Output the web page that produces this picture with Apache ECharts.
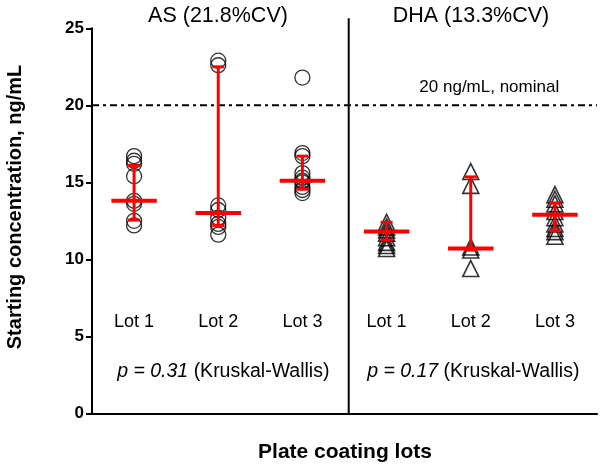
<!DOCTYPE html>
<html><head><meta charset="utf-8">
<script src="https://cdn.jsdelivr.net/npm/echarts@6/dist/echarts.min.js"></script>
<style>html,body{margin:0;padding:0;background:#fff}#c{width:600px;height:469px}</style>
</head><body><div id="c"></div>
<script>
// ---- data ----
const lotNames = ['Lot 1', 'Lot 2', 'Lot 3'];
const groupTitles = ['AS (21.8%CV)', 'DHA (13.3%CV)'];
const pValues = ['0.31', '0.17'];
const asX = [1, 2, 3];
const dhaX = [4, 5, 6];
const asLot1 = [16.7, 16.4, 16.2, 15.4, 13.8, 13.6, 12.5, 12.2];
const asLot2 = [22.9, 22.6, 13.5, 13.2, 12.7, 12.3, 12.1, 11.6];
const asLot3 = [21.8, 16.9, 16.7, 15.6, 15.3, 15.1, 15.0, 14.7, 14.5, 14.3];
const dhaLot1 = [12.4, 12.1, 11.9, 11.7, 11.4, 11.1, 10.9, 10.7];
const dhaLot2 = [15.7, 14.8, 10.8, 10.6, 9.4];
const dhaLot3 = [14.2, 13.9, 13.6, 13.1, 12.7, 12.3, 12.0, 11.8, 11.5];
const asMedian = [13.8, 13.0, 15.1];
const asLow = [12.55, 12.2, 14.55];
const asHigh = [16.1, 22.5, 16.7];
const dhaMedian = [11.8, 10.7, 12.9];
const dhaLow = [11.25, 10.6, 11.85];
const dhaHigh = [12.4, 15.35, 13.65];
const nominal = 20;
const nominalLabel = '20 ng/mL, nominal';
const yTitle = 'Starting concentration, ng/mL';
const xTitle = 'Plate coating lots';
const yMin = 0, yMax = 25, yStep = 5;

// ---- build ----
const FONT = 'Liberation Sans, Arial, Helvetica, sans-serif';
function pts(x, arr) { return arr.map(v => [x, v]); }
const asPoints = [].concat(pts(asX[0], asLot1), pts(asX[1], asLot2), pts(asX[2], asLot3));
const dhaPoints = [].concat(pts(dhaX[0], dhaLot1), pts(dhaX[1], dhaLot2), pts(dhaX[2], dhaLot3));
const barRows = asX.map((x, i) => [x, asMedian[i], asLow[i], asHigh[i]])
  .concat(dhaX.map((x, i) => [x, dhaMedian[i], dhaLow[i], dhaHigh[i]]));
const lotLabelRows = asX.concat(dhaX).map((x, i) => [x, lotNames[i % 3]]);

const chart = echarts.init(document.getElementById('c'), null, {renderer: 'canvas'});

function renderBars(params, api) {
  const x = api.value(0), m = api.value(1), lo = api.value(2), hi = api.value(3);
  const pm = api.coord([x, m]), pl = api.coord([x, lo]), ph = api.coord([x, hi]);
  const half = api.size([0.27, 0])[0];
  const cap = 6;
  const red = '#ff0000';
  return {type: 'group', children: [
    {type: 'line', shape: {x1: pl[0], y1: pl[1], x2: ph[0], y2: ph[1]}, style: {stroke: red, lineWidth: 3}},
    {type: 'line', shape: {x1: pl[0] - cap, y1: pl[1], x2: pl[0] + cap, y2: pl[1]}, style: {stroke: red, lineWidth: 3}},
    {type: 'line', shape: {x1: ph[0] - cap, y1: ph[1], x2: ph[0] + cap, y2: ph[1]}, style: {stroke: red, lineWidth: 3}},
    {type: 'line', shape: {x1: pm[0] - half, y1: pm[1], x2: pm[0] + half, y2: pm[1]}, style: {stroke: red, lineWidth: 4}}
  ]};
}

function renderRefs(params, api) {
  const d0 = api.coord([3.55, 0]);
  const d1 = api.coord([3.55, 25.65]);
  const n0 = api.coord([0.5, nominal]);
  const n1 = api.coord([6.5, nominal]);
  const lbl = api.coord([5.22, 21.2]);
  return {type: 'group', children: [
    {type: 'line', shape: {x1: d0[0], y1: d0[1], x2: d1[0], y2: d1[1]}, style: {stroke: '#000', lineWidth: 2}},
    {type: 'line', shape: {x1: n0[0], y1: n0[1], x2: n1[0], y2: n1[1]}, style: {stroke: '#000', lineWidth: 2, lineDash: [7, 4, 3, 4]}},
    {type: 'text', x: lbl[0], y: lbl[1], style: {text: nominalLabel, fontSize: 17, fontFamily: FONT, fill: '#000',
      align: 'center', verticalAlign: 'middle', textAlign: 'center', textVerticalAlign: 'middle'}}
  ]};
}

function renderLotLabels(params, api) {
  const x = api.value(0);
  const p = api.coord([x, 5.93]);
  return {type: 'text', x: p[0], y: p[1], style: {text: lotLabelRows[params.dataIndex][1], fontSize: 18, fontFamily: FONT, fill: '#000',
    align: 'center', verticalAlign: 'middle', textAlign: 'center', textVerticalAlign: 'middle'}};
}

function renderPText(params, api) {
  const x = api.value(0);
  const p = api.coord([x, 2.68]);
  return {type: 'text', x: p[0], y: p[1], style: {
    text: '{i|p = ' + pValues[params.dataIndex] + '} (Kruskal-Wallis)',
    fontSize: 19.5, fontFamily: FONT, fill: '#000',
    align: 'center', verticalAlign: 'middle', textAlign: 'center', textVerticalAlign: 'middle',
    rich: {i: {fontStyle: 'italic', fontSize: 19.5, fontFamily: FONT, fill: '#000'}}
  }};
}

const option = {
  animation: false,
  backgroundColor: '#fff',
  grid: {left: 92, right: 3, top: 28.3, bottom: 55.7, containLabel: false},
  xAxis: {
    type: 'value', min: 0.5, max: 6.5,
    axisLine: {show: true, onZero: false, lineStyle: {color: '#000', width: 2}},
    axisTick: {show: false}, axisLabel: {show: false}, splitLine: {show: false}
  },
  yAxis: {
    type: 'value', min: yMin, max: yMax, interval: yStep,
    axisLine: {show: true, lineStyle: {color: '#000', width: 2}},
    axisTick: {show: true, length: 6, lineStyle: {color: '#000', width: 2}},
    axisLabel: {color: '#000', fontSize: 17, fontWeight: 'bold', fontFamily: FONT, margin: 8},
    splitLine: {show: false}
  },
  graphic: [
    {type: 'text', x: 218, y: 16, style: {text: groupTitles[0], fontSize: 21.5, fontFamily: FONT, fill: '#000',
      align: 'center', verticalAlign: 'middle', textAlign: 'center', textVerticalAlign: 'middle'}},
    {type: 'text', x: 471, y: 16, style: {text: groupTitles[1], fontSize: 21.5, fontFamily: FONT, fill: '#000',
      align: 'center', verticalAlign: 'middle', textAlign: 'center', textVerticalAlign: 'middle'}},
    {type: 'text', x: 15, y: 207, rotation: Math.PI / 2, style: {text: yTitle, fontSize: 20, fontWeight: 'bold', fontFamily: FONT, fill: '#000',
      align: 'center', verticalAlign: 'middle', textAlign: 'center', textVerticalAlign: 'middle'}},
    {type: 'text', x: 345, y: 452, style: {text: xTitle, fontSize: 21, fontWeight: 'bold', fontFamily: FONT, fill: '#000',
      align: 'center', verticalAlign: 'middle', textAlign: 'center', textVerticalAlign: 'middle'}}
  ],
  series: [
    {type: 'custom', name: 'refs', data: [[0]], renderItem: renderRefs, silent: true, clip: false, z: 1},
    {type: 'scatter', name: 'AS', data: asPoints, symbol: 'circle', symbolSize: 15,
      itemStyle: {color: 'rgba(0,0,0,0)', borderColor: '#000', borderWidth: 1.3}, emphasis: {disabled: true}, z: 2},
    {type: 'scatter', name: 'DHA', data: dhaPoints, symbol: 'triangle', symbolSize: 16,
      itemStyle: {color: 'rgba(0,0,0,0)', borderColor: '#000', borderWidth: 1.6}, emphasis: {disabled: true}, z: 2},
    {type: 'custom', name: 'median', data: barRows, renderItem: renderBars, silent: true, clip: false, z: 3},
    {type: 'custom', name: 'lots', data: lotLabelRows.map(r => [r[0]]), renderItem: renderLotLabels, silent: true, clip: false, z: 4},
    {type: 'custom', name: 'ptext', data: [[2.06], [5.03]], renderItem: renderPText, silent: true, clip: false, z: 4}
  ]
};
chart.setOption(option);
</script>
</body></html>
